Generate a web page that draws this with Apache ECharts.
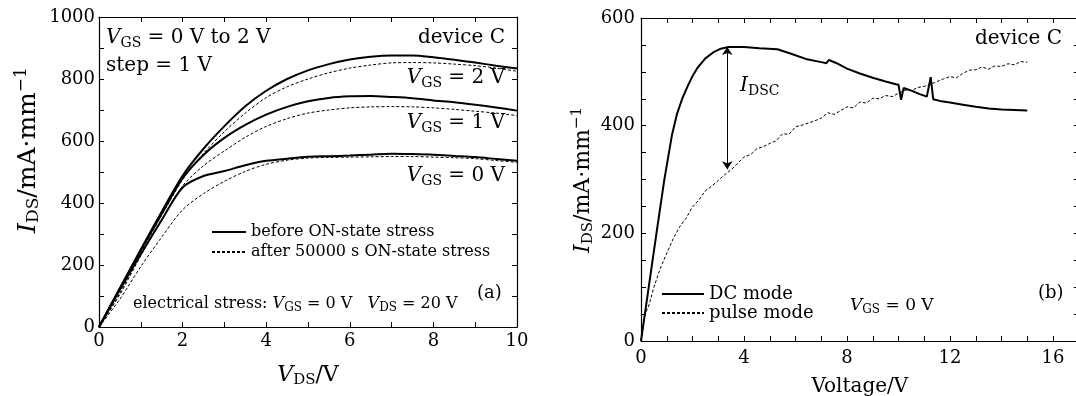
<!DOCTYPE html>
<html>
<head>
<meta charset="utf-8">
<script src="https://cdn.jsdelivr.net/npm/echarts@6/dist/echarts.min.js"></script>
<style>
html, body { margin: 0; padding: 0; background: #fff; }
#chart { width: 1076px; height: 396px; }
</style>
</head>
<body>
<div id="chart"></div>
<script>
// panel (a): output curves before / after ON-state stress
var vdsA = [0, 0.5, 1, 1.5, 2, 2.5, 3, 3.5, 4, 4.5, 5, 5.5, 6, 6.5, 7, 7.5, 8, 8.5, 9, 9.5, 10];
var before2 = [0, 125, 250, 372, 488, 575, 648, 712, 762, 800, 828, 848, 863, 872, 876, 876, 870, 862, 853, 843, 834];
var after2  = [0, 110, 240, 360, 475, 560, 630, 690, 740, 775, 800, 820, 835, 845, 852, 853, 852, 848, 843, 835, 825];
var before1 = [0, 125, 248, 365, 480, 555, 610, 652, 685, 710, 728, 739, 744, 745, 742, 738, 731, 725, 717, 708, 698];
var after1  = [0, 105, 230, 345, 455, 520, 568, 612, 647, 672, 690, 700, 707, 710, 711, 710, 707, 702, 696, 690, 682];
var before0 = [0, 120, 235, 345, 450, 487, 503, 522, 536, 543, 549, 551, 553, 556, 559, 558, 556, 552, 548, 542, 536];
var after0  = [0, 90, 195, 290, 378, 430, 470, 502, 525, 538, 545, 547, 548, 549, 550, 550, 548, 546, 543, 537, 531];

// panel (b): DC vs pulse mode
var dcX = [0, 0.3, 0.6, 0.9, 1.2, 1.4, 1.6, 1.8, 2.0, 2.2, 2.5, 2.8, 3.1, 3.4, 4.0, 4.6, 5.3, 5.8, 6.4, 7.0, 7.2, 7.3, 7.6,
    8.0, 8.5, 9.0, 9.5, 9.9, 10.0, 10.1, 10.2, 10.5, 10.8, 11.1, 11.25, 11.35, 11.6, 12.0, 12.5, 13.0, 13.5, 14.0, 14.5, 15.0];
var dcY = [0, 100, 200, 298, 382, 422, 450, 472, 492, 508, 525, 536, 543, 546, 546, 544, 542, 534, 524, 518, 516, 522, 516,
    506, 497, 489, 482, 477, 476, 448, 470, 465, 459, 454, 490, 449, 446, 443, 439, 435, 432, 430, 429, 428];
var pulseX = [0, 0.1, 0.2, 0.3, 0.5, 0.75, 1, 1.25, 1.5, 1.75, 2, 2.25, 2.5, 2.75, 3, 3.25, 3.5, 3.75, 4, 4.25, 4.5, 4.75,
    5, 5.25, 5.5, 5.75, 6, 6.25, 6.5, 6.75, 7, 7.25, 7.5, 7.75, 8, 8.25, 8.5, 8.75, 9, 9.25, 9.5, 9.75, 10, 10.25, 10.5,
    10.75, 11, 11.25, 11.5, 11.75, 12, 12.25, 12.5, 12.75, 13, 13.25, 13.5, 13.75, 14, 14.25, 14.5, 14.75, 15];
var pulseY = [0, 35, 55, 65, 100, 135, 163, 190, 212, 228, 249, 262, 279, 288, 298, 309, 318, 330, 342, 346, 357, 361,
    367, 372, 385, 384, 398, 401, 405, 409, 414, 424, 421, 428, 435, 433, 444, 442, 451, 450, 456, 454, 460, 466, 465,
    471, 473, 477, 482, 487, 491, 489, 497, 503, 504, 509, 505, 511, 510, 515, 513, 519, 518];
var arrowX = 3.35, arrowTop = 546, arrowBottom = 319;

var F = "'DejaVu Serif', serif";

function pairs(xs, ys) {
    return xs.map(function (x, i) { return [x, ys[i]]; });
}

function rich(sz, sub) {
    return {
        i: { fontFamily: F, fontSize: sz, fontStyle: 'italic', lineHeight: sz + 4, color: '#000' },
        n: { fontFamily: F, fontSize: sz, lineHeight: sz + 4, color: '#000' },
        s: { fontFamily: F, fontSize: sub, lineHeight: sub, verticalAlign: 'bottom', color: '#000' },
        p: { fontFamily: F, fontSize: sub, lineHeight: sub, verticalAlign: 'top', color: '#000' }
    };
}

function label(text, pos, sz, sub) {
    var el = { type: 'text', style: { text: text, rich: rich(sz, sub), fill: '#000' } };
    for (var k in pos) {
        if (k === 'align' || k === 'verticalAlign') el.style[k] = pos[k];
        else el[k] = pos[k];
    }
    return el;
}

var axisLine = { show: true, onZero: false, lineStyle: { color: '#000', width: 1.2 } };

function xAx(grid, max, step, pos, show) {
    return {
        type: 'value', gridIndex: grid, min: 0, max: max, interval: 1, position: pos,
        axisLine: axisLine,
        axisTick: { inside: true, length: 5, lineStyle: { color: '#000', width: 1 } },
        axisLabel: {
            show: show, margin: grid === 0 ? 5 : 8, color: '#000', fontFamily: F, fontSize: 18,
            showMaxLabel: max % step === 0,
            formatter: function (v) { return v % step === 0 ? String(v) : ''; }
        },
        splitLine: { show: false }
    };
}

function yAx(grid, max, minor, step, pos, show) {
    return {
        type: 'value', gridIndex: grid, min: 0, max: max, interval: minor, position: pos,
        axisLine: axisLine,
        axisTick: { inside: true, length: 5, lineStyle: { color: '#000', width: 1 } },
        axisLabel: {
            show: show, margin: grid === 0 ? 4 : 6, color: '#000', fontFamily: F, fontSize: 18,
            formatter: function (v) { return v % step === 0 ? String(v) : ''; }
        },
        splitLine: { show: false }
    };
}

var xs = [xAx(0, 10, 2, 'bottom', true), xAx(0, 10, 2, 'top', false),
          xAx(1, 17, 4, 'bottom', true), xAx(1, 17, 4, 'top', false)];
var ys = [yAx(0, 1000, 100, 200, 'left', true), yAx(0, 1000, 100, 200, 'right', false),
          yAx(1, 600, 50, 200, 'left', true), yAx(1, 600, 50, 200, 'right', false)];

xs[0].name = '{i|V}{s|DS}{n|/V}';
xs[0].nameLocation = 'middle';
xs[0].nameGap = 35;
xs[0].nameTextStyle = { rich: rich(22, 15) };
xs[2].name = 'Voltage/V';
xs[2].nameLocation = 'middle';
xs[2].nameGap = 36;
xs[2].nameTextStyle = { color: '#000', fontFamily: F, fontSize: 20 };

var solid = { color: '#000', width: 2 };
var dashed = { color: '#000', width: 1, type: [3, 2] };
var nB = 'before ON-state stress', nA = 'after 50000 s ON-state stress';

function line(name, xi, data, style) {
    return {
        name: name, type: 'line', xAxisIndex: xi, yAxisIndex: xi, data: data,
        symbol: 'none', smooth: false, lineStyle: style, itemStyle: { color: '#000' },
        silent: true, z: style.width > 1 ? 3 : 2
    };
}

var series = [
    line(nB, 0, pairs(vdsA, before2), solid),
    line(nA, 0, pairs(vdsA, after2), dashed),
    line(nB, 0, pairs(vdsA, before1), solid),
    line(nA, 0, pairs(vdsA, after1), dashed),
    line(nB, 0, pairs(vdsA, before0), solid),
    line(nA, 0, pairs(vdsA, after0), dashed),
    line('DC mode', 2, pairs(dcX, dcY), solid),
    line('pulse mode', 2, pairs(pulseX, pulseY), { color: '#000', width: 1, type: [3, 2] })
];
series.forEach(function (s) { if (s.xAxisIndex === 0) s.smooth = 0.3; });
series[6].markLine = {
    silent: true, symbol: ['arrow', 'arrow'], symbolSize: 8,
    label: { show: false },
    lineStyle: { color: '#000', width: 1, type: 'solid' },
    data: [[{ coord: [arrowX, arrowTop] }, { coord: [arrowX, arrowBottom] }]]
};

var legendText = { color: '#000', fontFamily: F };

var option = {
    animation: false,
    backgroundColor: '#fff',
    grid: [
        { left: 99, top: 17, width: 418, height: 310, outerBoundsMode: 'none' },
        { left: 641, top: 18, width: 437.75, height: 323, outerBoundsMode: 'none' }
    ],
    xAxis: xs,
    yAxis: ys,
    legend: [
        {
            data: [nB, nA], orient: 'vertical', left: 206, top: 219,
            itemWidth: 34, itemHeight: 14, itemGap: 4, selectedMode: false,
            itemStyle: { opacity: 0 },
            textStyle: Object.assign({ fontSize: 16 }, legendText)
        },
        {
            data: ['DC mode', 'pulse mode'], orient: 'vertical', left: 656, top: 280,
            itemWidth: 42, itemHeight: 14, itemGap: 1, selectedMode: false,
            itemStyle: { opacity: 0 },
            textStyle: Object.assign({ fontSize: 18 }, legendText)
        }
    ],
    graphic: [
        label('{i|I}{s|DS}{n|/mA·mm}{p|−1}', { x: 28, y: 150, rotation: Math.PI / 2, align: 'center', verticalAlign: 'middle' }, 25, 17),
        label('{i|I}{s|DS}{n|/mA·mm}{p|−1}', { x: 583, y: 180, rotation: Math.PI / 2, align: 'center', verticalAlign: 'middle' }, 22, 15),
        label('{i|V}{s|GS}{n| = 0 V to 2 V}', { left: 106, top: 28 }, 20, 14),
        label('{n|step = 1 V}', { left: 106, top: 56 }, 20, 14),
        label('{n|device C}', { right: 571, top: 28 }, 20, 14),
        label('{i|V}{s|GS}{n| = 2 V}', { right: 571, top: 68 }, 20, 14),
        label('{i|V}{s|GS}{n| = 1 V}', { right: 571, top: 113 }, 20, 14),
        label('{i|V}{s|GS}{n| = 0 V}', { right: 571, top: 166 }, 20, 14),
        label('{n|electrical stress: }{i|V}{s|GS}{n| = 0 V   }{i|V}{s|DS}{n| = 20 V}', { left: 133, top: 296 }, 16, 12),
        label('{n|(a)}', { left: 477, top: 284 }, 18, 12),
        label('{n|device C}', { right: 14, top: 29 }, 20, 14),
        label('{i|I}{s|DSC}', { left: 740, top: 76 }, 20, 14),
        label('{i|V}{s|GS}{n| = 0 V}', { left: 850, top: 297 }, 17, 12),
        label('{n|(b)}', { left: 1038, top: 284 }, 18, 12)
    ],
    series: series
};

var myChart = echarts.init(document.getElementById('chart'), null, { renderer: 'canvas' });
myChart.setOption(option);
</script>
</body>
</html>
